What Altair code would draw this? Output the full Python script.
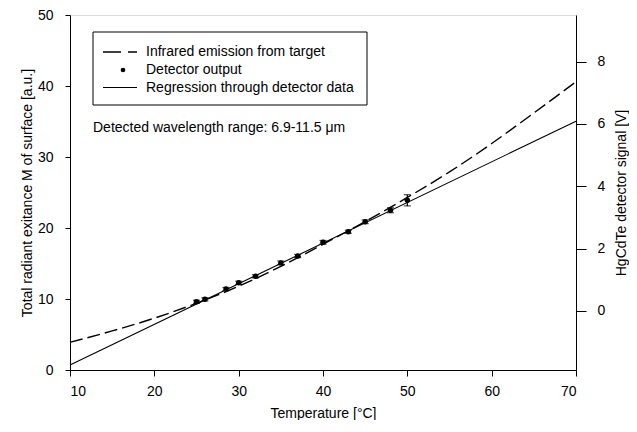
import altair as alt
import pandas as pd

# Infrared emission from target (left axis, a.u.)
emis_t = [10, 15, 20, 25, 30, 35, 40, 45, 50, 55, 60, 65, 70]
emis_m = [3.9, 5.5, 7.3, 9.4, 11.8, 14.6, 17.7, 20.9, 24.3, 27.9, 31.9, 36.2, 40.6]

# Detector output (right axis, V)
det_t = [25, 26, 28.5, 30, 32, 35, 37, 40, 43, 45, 48, 50]
det_v = [0.29, 0.37, 0.70, 0.90, 1.11, 1.54, 1.76, 2.20, 2.54, 2.86, 3.23, 3.55]
det_err = [0.05, 0.05, 0.05, 0.05, 0.05, 0.06, 0.05, 0.06, 0.05, 0.06, 0.08, 0.18]

# Regression through detector data (right axis, V)
reg_t = [10, 70]
reg_v = [-1.74, 6.09]

FONT = "Liberation Sans"
FS = 14

emis_df = pd.DataFrame({"t": emis_t, "m": emis_m})
det_df = pd.DataFrame({"t": det_t, "v": det_v, "lo": [v - e for v, e in zip(det_v, det_err)],
                       "hi": [v + e for v, e in zip(det_v, det_err)]})
reg_df = pd.DataFrame({"t": reg_t, "v": reg_v})

xscale = alt.Scale(domain=[10, 70], nice=False, zero=False)
xaxis = alt.Axis(title="Temperature [°C]", values=[10, 20, 30, 40, 50, 60, 70], grid=False,
                 tickSize=6, labelPadding=8, titlePadding=8, domainColor="black",
                 tickColor="black", labelColor="black", titleColor="black",
                 labelFont=FONT, titleFont=FONT, labelFontSize=FS, titleFontSize=FS,
                 titleFontWeight="normal")
X = alt.X("t:Q", scale=xscale, axis=xaxis)

left_axis = alt.Axis(title="Total radiant exitance M of surface [a.u.]",
                     values=[0, 10, 20, 30, 40, 50], grid=False, tickSize=5, labelPadding=12,
                     titlePadding=3, domainColor="black", tickColor="black",
                     labelColor="black", titleColor="black", labelFont=FONT, titleFont=FONT,
                     labelFontSize=FS, titleFontSize=FS, titleFontWeight="normal")

emis = alt.Chart(emis_df).mark_line(color="black", strokeWidth=1.4, strokeDash=[13, 5],
                                    interpolate="natural").encode(
    x=X, y=alt.Y("m:Q", scale=alt.Scale(domain=[0, 50], nice=False), axis=left_axis))

rscale = alt.Scale(domain=[-1.9, 9.5], nice=False, zero=False)
right_axis = alt.Axis(title="HgCdTe detector signal [V]", orient="right",
                      values=[0, 2, 4, 6, 8], grid=False, tickSize=10, labelPadding=11,
                      titlePadding=10, titleAngle=270, titleBaseline="top",
                      domainColor="black", tickColor="black",
                      labelColor="black", titleColor="black", labelFont=FONT, titleFont=FONT,
                      labelFontSize=FS, titleFontSize=FS, titleFontWeight="normal")

reg = alt.Chart(reg_df).mark_line(color="black", strokeWidth=1.1).encode(
    x=X, y=alt.Y("v:Q", scale=rscale, axis=right_axis))
err = alt.Chart(det_df).mark_rule(color="black", strokeWidth=1.2).encode(
    x=X, y=alt.Y("lo:Q", scale=rscale, axis=right_axis), y2="hi:Q")
cap_lo = alt.Chart(det_df).mark_tick(color="black", orient="horizontal", size=7,
                                     thickness=1.2).encode(
    x=X, y=alt.Y("lo:Q", scale=rscale, axis=right_axis))
cap_hi = alt.Chart(det_df).mark_tick(color="black", orient="horizontal", size=7,
                                     thickness=1.2).encode(
    x=X, y=alt.Y("hi:Q", scale=rscale, axis=right_axis))
pts = alt.Chart(det_df).mark_point(filled=True, color="black", size=30, opacity=1).encode(
    x=X, y=alt.Y("v:Q", scale=rscale, axis=right_axis))

right = alt.layer(reg, err, cap_lo, cap_hi, pts)

# Legend box and annotation
one = pd.DataFrame({"a": [0]})
box = alt.Chart(one).mark_rect(fill="white", stroke="black", strokeWidth=1).encode(
    x=alt.value(23), x2=alt.value(297), y=alt.value(17), y2=alt.value(90))
leg_dash = alt.Chart(one).mark_rule(color="black", strokeWidth=1.4, strokeDash=[18, 7]).encode(
    x=alt.value(33), x2=alt.value(67), y=alt.value(37))
leg_dot = alt.Chart(one).mark_point(filled=True, color="black", size=22, opacity=1).encode(
    x=alt.value(53), y=alt.value(55))
leg_line = alt.Chart(one).mark_rule(color="black", strokeWidth=1.1).encode(
    x=alt.value(33), x2=alt.value(67), y=alt.value(72.5))

leg_labels = ["Infrared emission from target", "Detector output",
              "Regression through detector data"]
leg_y = [37, 55, 72.5]
leg_text = alt.layer(*[
    alt.Chart(one).mark_text(text=lbl, align="left", baseline="middle", font=FONT,
                             fontSize=FS, color="black").encode(
        x=alt.value(76), y=alt.value(yy))
    for lbl, yy in zip(leg_labels, leg_y)])
note = alt.Chart(one).mark_text(text="Detected wavelength range: 6.9-11.5 μm", align="left",
                                baseline="middle", font=FONT, fontSize=FS,
                                color="black").encode(x=alt.value(23), y=alt.value(113))

chart = alt.layer(emis, right, box, leg_dash, leg_dot, leg_line, leg_text, note).resolve_scale(
    y="independent").properties(
    width=506, height=355,
    autosize=alt.AutoSizeParams(type="none"),
    padding={"left": 62, "top": 7, "right": 53, "bottom": 50},
).configure_view(stroke="black", strokeWidth=1).configure(background="white")

chart.save("out.html", embed_options={"renderer": "svg", "actions": False})
